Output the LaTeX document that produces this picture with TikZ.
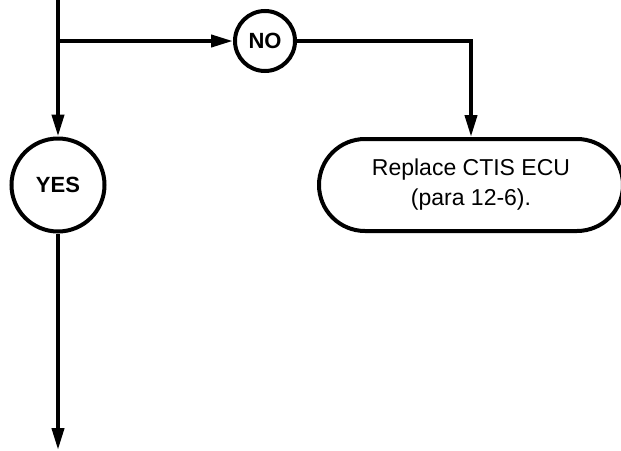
\documentclass[tikz,border=0pt]{standalone}
\usepackage{fontspec}
\setmainfont{Liberation Sans}
\usetikzlibrary{arrows.meta,positioning}

\begin{document}
\begin{tikzpicture}[
  x=1pt, y=-1pt,
  answer/.style={draw, circle, line width=4pt, inner sep=0pt, font=\fontsize{22}{26}\selectfont\bfseries},
  endbox/.style={draw, rounded corners=46pt, line width=4pt, align=center, minimum width=304pt, minimum height=92pt, font=\fontsize{23}{30}\selectfont},
  line/.style={line width=4pt},
  arrow/.style={line, -{Triangle[length=22pt, width=12pt]}}
]
\useasboundingbox (0,0) rectangle (621,450);
\coordinate (top) at (58,0);
\coordinate (split) at (58,41);
\coordinate (bottom) at (58,450);

\node[answer, minimum size=93pt, below=95.5pt of split] (yes) {YES};
\node[answer, minimum size=60pt, right=175pt of split] (no) {NO};
\node[endbox, right=210.5pt of yes] (replace) {Replace CTIS ECU\\(para 12-6).};

\draw[line] (top) -- (split);
\draw[arrow] (split) -- (yes);
\draw[arrow] (split) -- (no);
\draw[arrow] (no) -| (replace);
\draw[arrow] (yes) -- (bottom);
\end{tikzpicture}
\end{document}
